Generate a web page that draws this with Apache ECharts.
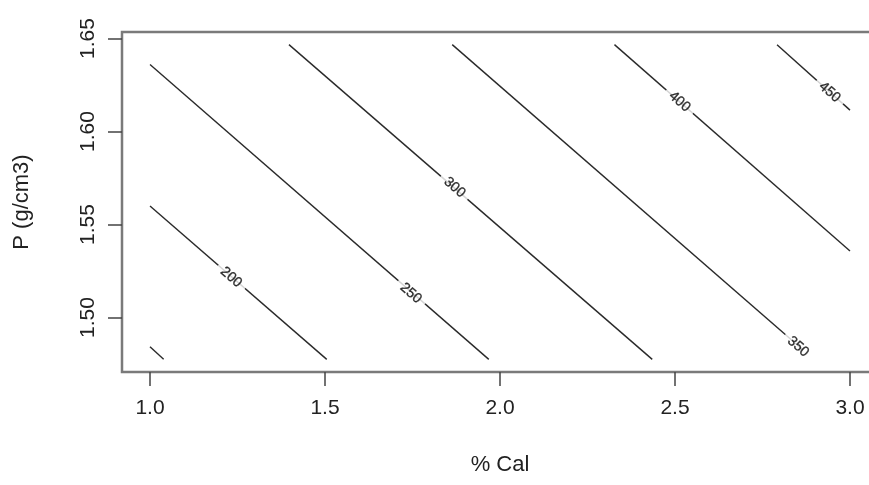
<!DOCTYPE html>
<html>
<head>
<meta charset="utf-8">
<script src="https://cdn.jsdelivr.net/npm/echarts@6/dist/echarts.min.js"></script>
<style>
  html, body { margin: 0; padding: 0; background: #fff; overflow: hidden; }
  #chart { width: 890px; height: 485px; }
</style>
</head>
<body>
<div id="chart"></div>
<script>
// Tick positions on each axis
const xTicks = [1.0, 1.5, 2.0, 2.5, 3.0];
const yTicks = [1.50, 1.55, 1.60, 1.65];

// Contour lines of the response surface: [% Cal, P (g/cm3)] vertices
const contour150 = [[1.000, 1.4843], [1.039, 1.4775]];
const contour200 = [[1.000, 1.5600], [1.505, 1.4775]];
const contour250 = [[1.000, 1.6360], [1.968, 1.4775]];
const contour300 = [[1.397, 1.6467], [2.435, 1.4775]];
const contour350 = [[1.8635, 1.6467], [2.866, 1.4825]];
const contour400 = [[2.327, 1.6467], [3.000, 1.5358]];
const contour450 = [[2.7915, 1.6467], [3.000, 1.6115]];

const contourLines = [contour150, contour200, contour250, contour300, contour350, contour400, contour450];

// Level labels and where they sit on their line
const labelLevels = [200, 250, 300, 350, 400, 450];
const labelPoints = [
  [1.232, 1.5216],
  [1.745, 1.5130],
  [1.870, 1.5699],
  [2.852, 1.4843],
  [2.513, 1.6160],
  [2.942, 1.6211]
];

const chart = echarts.init(document.getElementById('chart'), null, { renderer: 'canvas' });

const textColor = '#222';
const fontFamily = '"Liberation Sans", Arial, sans-serif';

const series = contourLines.map(pts => ({
  type: 'line',
  data: pts,
  showSymbol: false,
  symbol: 'none',
  silent: true,
  animation: false,
  lineStyle: { color: '#2a2a2a', width: 1.4 },
  z: 2
}));

// Level labels, each on a white patch that breaks its line
series.push({
  type: 'scatter',
  data: labelPoints.map((p, i) => ({ value: p, level: labelLevels[i] })),
  symbolSize: 2,
  itemStyle: { color: 'rgba(0,0,0,0)' },
  silent: true,
  animation: false,
  clip: false,
  z: 3,
  labelLayout: { hideOverlap: false },
  label: {
    show: true,
    position: 'inside',
    formatter: p => String(labelLevels[p.dataIndex]),
    rotate: -41,
    fontSize: 14,
    fontFamily: fontFamily,
    color: '#000',
    textBorderColor: '#333',
    textBorderWidth: 0.4,
    backgroundColor: '#fff',
    padding: [0, 6]
  }
});

chart.setOption({
  animation: false,
  backgroundColor: '#fff',
  grid: {
    left: 122,
    top: 32,
    width: 756,
    height: 340,
    show: true,
    borderColor: '#7a7a7a',
    borderWidth: 2.5,
    backgroundColor: 'transparent'
  },
  xAxis: {
    type: 'value',
    min: 0.92,
    max: 3.08,
    name: '% Cal',
    nameLocation: 'middle',
    nameGap: 82,
    nameTextStyle: { fontSize: 22, color: textColor, fontFamily: fontFamily },
    axisLine: { show: false },
    splitLine: { show: false },
    axisTick: {
      show: true,
      length: 14,
      customValues: xTicks,
      lineStyle: { color: '#444', width: 1.5 }
    },
    axisLabel: {
      customValues: xTicks,
      formatter: v => v.toFixed(1),
      margin: 26,
      fontSize: 21,
      color: textColor,
      fontFamily: fontFamily
    }
  },
  yAxis: {
    type: 'value',
    min: 1.4707,
    max: 1.6535,
    name: 'P (g/cm3)',
    nameLocation: 'middle',
    nameGap: 89,
    nameRotate: 90,
    nameTextStyle: { fontSize: 22, color: textColor, fontFamily: fontFamily },
    axisLine: { show: false },
    splitLine: { show: false },
    axisTick: {
      show: true,
      length: 14,
      customValues: yTicks,
      lineStyle: { color: '#444', width: 1.5 }
    },
    axisLabel: {
      customValues: yTicks,
      formatter: v => v.toFixed(2),
      rotate: 90,
      margin: 23,
      fontSize: 21,
      color: textColor,
      fontFamily: fontFamily
    }
  },
  series: series
});
</script>
</body>
</html>
